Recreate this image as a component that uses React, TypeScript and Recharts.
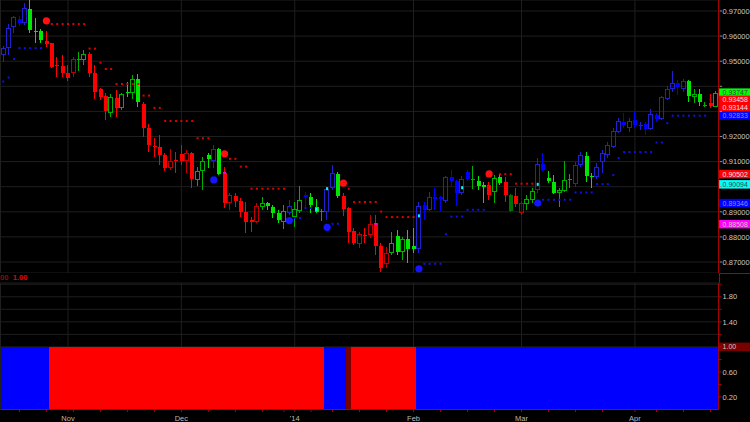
import React from 'react';
import { ComposedChart, Bar, Line, XAxis, YAxis, CartesianGrid, ReferenceLine } from 'recharts';

const FONT = "'Liberation Sans', Arial, sans-serif";

// daily bars, late Oct 2013 - mid Apr 2014
const opens = [
  0.9525, 0.9552, 0.9635, 0.9667, 0.9653, 0.9707, 0.9621, 0.9622, 0.9579, 0.9571,
  0.9486, 0.9482, 0.9454, 0.9452, 0.9507, 0.9505, 0.9528, 0.9454, 0.9388, 0.9362,
  0.9295, 0.9353, 0.9315, 0.9377, 0.9375, 0.9431, 0.9330, 0.9234, 0.9163, 0.9159,
  0.9127, 0.9075, 0.9107, 0.9131, 0.9103, 0.9135, 0.9027, 0.9063, 0.9127, 0.9103,
  0.9151, 0.9055, 0.8936, 0.8964, 0.8944, 0.8900, 0.8868, 0.8860, 0.8920, 0.8936,
  0.8920, 0.8896, 0.8860, 0.8896, 0.8880, 0.8904, 0.8968, 0.8960, 0.8920, 0.8903,
  0.8900, 0.8996, 0.9051, 0.8964, 0.8916, 0.8824, 0.8773, 0.8809, 0.8808, 0.8856,
  0.8765, 0.8693, 0.8737, 0.8805, 0.8741, 0.8793, 0.8765, 0.8753, 0.8928, 0.8908,
  0.8960, 0.8960, 0.8944, 0.9039, 0.9023, 0.8976, 0.9059, 0.9031, 0.9023, 0.9008,
  0.9008, 0.8980, 0.9039, 0.9019, 0.8968, 0.8964, 0.8896, 0.8932, 0.8948, 0.8988,
  0.9091, 0.9035, 0.9019, 0.8976, 0.8984, 0.9031, 0.9011, 0.9087, 0.9123, 0.9043,
  0.9039, 0.9099, 0.9127, 0.9159, 0.9218, 0.9258, 0.9234, 0.9266, 0.9246, 0.9250,
  0.9230, 0.9286, 0.9270, 0.9350, 0.9388, 0.9413, 0.9388, 0.9421, 0.9358, 0.9370,
  0.9326, 0.9334, 0.9318,
];
const highs = [
  0.9561, 0.9648, 0.9680, 0.9680, 0.9731, 0.9742, 0.9671, 0.9627, 0.9622, 0.9574,
  0.9518, 0.9525, 0.9485, 0.9518, 0.9538, 0.9545, 0.9538, 0.9485, 0.9392, 0.9372,
  0.9370, 0.9386, 0.9375, 0.9419, 0.9445, 0.9449, 0.9339, 0.9250, 0.9195, 0.9207,
  0.9135, 0.9151, 0.9139, 0.9167, 0.9147, 0.9139, 0.9079, 0.9119, 0.9135, 0.9167,
  0.9155, 0.9079, 0.8976, 0.8976, 0.8956, 0.8940, 0.8880, 0.8936, 0.8960, 0.8940,
  0.8928, 0.8908, 0.8928, 0.8948, 0.8940, 0.9004, 0.8980, 0.8976, 0.8952, 0.8912,
  0.9000, 0.9087, 0.9059, 0.8976, 0.8920, 0.8836, 0.8820, 0.8836, 0.8888, 0.8888,
  0.8777, 0.8761, 0.8820, 0.8828, 0.8801, 0.8828, 0.8836, 0.8940, 0.8940, 0.8980,
  0.8996, 0.8964, 0.9043, 0.9067, 0.9027, 0.9043, 0.9067, 0.9083, 0.9043, 0.9019,
  0.9019, 0.9047, 0.9047, 0.9039, 0.8972, 0.8996, 0.8944, 0.8968, 0.8996, 0.9115,
  0.9135, 0.9063, 0.9047, 0.8996, 0.9103, 0.9051, 0.9099, 0.9139, 0.9139, 0.9055,
  0.9095, 0.9147, 0.9179, 0.9234, 0.9274, 0.9294, 0.9274, 0.9302, 0.9258, 0.9258,
  0.9310, 0.9294, 0.9362, 0.9402, 0.9461, 0.9425, 0.9429, 0.9425, 0.9388, 0.9388,
  0.9338, 0.9370, 0.9382,
];
const lows = [
  0.9497, 0.9525, 0.9612, 0.9640, 0.9644, 0.9611, 0.9574, 0.9574, 0.9558, 0.9472,
  0.9439, 0.9439, 0.9423, 0.9436, 0.9462, 0.9485, 0.9439, 0.9349, 0.9346, 0.9266,
  0.9279, 0.9279, 0.9306, 0.9359, 0.9349, 0.9319, 0.9200, 0.9139, 0.9119, 0.9087,
  0.9063, 0.9067, 0.9055, 0.9087, 0.9055, 0.8996, 0.9004, 0.8988, 0.9075, 0.9075,
  0.9047, 0.8916, 0.8908, 0.8920, 0.8880, 0.8816, 0.8820, 0.8856, 0.8908, 0.8908,
  0.8876, 0.8856, 0.8832, 0.8888, 0.8840, 0.8896, 0.8920, 0.8896, 0.8896, 0.8864,
  0.8868, 0.8988, 0.8956, 0.8884, 0.8777, 0.8769, 0.8757, 0.8777, 0.8797, 0.8729,
  0.8661, 0.8677, 0.8729, 0.8729, 0.8709, 0.8697, 0.8737, 0.8737, 0.8868, 0.8904,
  0.8908, 0.8904, 0.8936, 0.9000, 0.8924, 0.8968, 0.9023, 0.8992, 0.8988, 0.8936,
  0.8948, 0.8936, 0.9008, 0.8940, 0.8900, 0.8920, 0.8888, 0.8908, 0.8936, 0.8976,
  0.9063, 0.9015, 0.8972, 0.8920, 0.8980, 0.8996, 0.9000, 0.9079, 0.9019, 0.8996,
  0.9031, 0.9055, 0.9115, 0.9155, 0.9214, 0.9234, 0.9218, 0.9234, 0.9226, 0.9207,
  0.9226, 0.9258, 0.9266, 0.9346, 0.9378, 0.9366, 0.9378, 0.9338, 0.9334, 0.9322,
  0.9318, 0.9314, 0.9316,
];
const closes = [
  0.9554, 0.9631, 0.9675, 0.9651, 0.9711, 0.9624, 0.9620, 0.9585, 0.9570, 0.9478,
  0.9485, 0.9452, 0.9435, 0.9508, 0.9508, 0.9528, 0.9452, 0.9379, 0.9359, 0.9302,
  0.9357, 0.9313, 0.9370, 0.9376, 0.9428, 0.9339, 0.9233, 0.9167, 0.9162, 0.9127,
  0.9075, 0.9103, 0.9106, 0.9103, 0.9135, 0.9031, 0.9063, 0.9103, 0.9111, 0.9151,
  0.9051, 0.8936, 0.8968, 0.8944, 0.8900, 0.8860, 0.8860, 0.8924, 0.8936, 0.8924,
  0.8896, 0.8868, 0.8904, 0.8924, 0.8912, 0.8948, 0.8960, 0.8928, 0.8900, 0.8904,
  0.8992, 0.9055, 0.8964, 0.8912, 0.8820, 0.8777, 0.8812, 0.8808, 0.8852, 0.8765,
  0.8677, 0.8737, 0.8777, 0.8741, 0.8793, 0.8753, 0.8753, 0.8924, 0.8908, 0.8960,
  0.8952, 0.8952, 0.9039, 0.9023, 0.8976, 0.9031, 0.9031, 0.9032, 0.9004, 0.9000,
  0.8968, 0.9035, 0.9015, 0.8968, 0.8904, 0.8932, 0.8936, 0.8952, 0.8984, 0.9091,
  0.9067, 0.9023, 0.8976, 0.8988, 0.9027, 0.9032, 0.9087, 0.9127, 0.9043, 0.9039,
  0.9079, 0.9135, 0.9167, 0.9222, 0.9262, 0.9246, 0.9262, 0.9246, 0.9247, 0.9230,
  0.9290, 0.9270, 0.9358, 0.9388, 0.9413, 0.9398, 0.9421, 0.9362, 0.9370, 0.9338,
  0.9327, 0.9322, 0.9375,
];

// candle colour runs: B blue, G green, R red, D dark green
const toneRuns: [string, number][] = [
  ['B', 5], ['G', 3], ['R', 6], ['G', 2], ['R', 4], ['G', 1], ['R', 1], ['G', 4], ['R', 10],
  ['G', 3], ['B', 1], ['G', 1], ['R', 7], ['G', 5], ['B', 1], ['G', 2], ['B', 1], ['G', 3],
  ['B', 2], ['G', 1], ['R', 9], ['G', 5], ['B', 10], ['G', 3], ['R', 1], ['G', 2], ['R', 1],
  ['D', 1], ['R', 2], ['G', 2], ['B', 2], ['G', 5], ['B', 2], ['G', 2], ['B', 17], ['G', 4],
  ['R', 1], ['G', 1],
];

// lower study: long (B) / short (R) / flip bar (X), always plotted at 1.00
const regimeRuns: [string, number][] = [['B', 9], ['R', 51], ['B', 4], ['X', 1], ['R', 12], ['B', 56]];
const studyLevel = 1.0;

// trailing stops, [bar, price]
const redStops: [number, number][] = [
  [9, 0.9648], [10, 0.9648], [11, 0.9648], [12, 0.9648], [13, 0.9648], [14, 0.9648], [15, 0.9648],
  [16, 0.955], [17, 0.955], [18, 0.9494], [19, 0.9469], [20, 0.9469],
  [21, 0.9409], [22, 0.9409], [23, 0.9409], [24, 0.9409], [25, 0.9409],
  [26, 0.9363], [27, 0.9363], [28, 0.9314], [29, 0.9314],
  [30, 0.9262], [31, 0.9262], [32, 0.9262], [33, 0.9262], [34, 0.9262], [35, 0.9262],
  [36, 0.9193], [37, 0.9193], [38, 0.9193],
  [42, 0.9111], [43, 0.9111], [44, 0.908], [45, 0.908],
  [46, 0.8992], [47, 0.8992], [48, 0.8992], [49, 0.8992], [50, 0.8992], [51, 0.8992], [52, 0.8992],
  [64, 0.8992], [65, 0.8939], [66, 0.8939], [67, 0.8939], [68, 0.8939], [69, 0.8939], [70, 0.8901],
  [71, 0.8879], [72, 0.8879], [73, 0.8879], [74, 0.8879], [75, 0.8879], [76, 0.8879],
  [92, 0.905], [93, 0.905], [94, 0.905], [95, 0.9012], [96, 0.9012], [97, 0.9012], [98, 0.9012],
  [131, 0.9346],
];
const blueStops: [number, number][] = [
  [0, 0.9419], [1, 0.9435], [2, 0.9509], [3, 0.9552], [4, 0.9552], [5, 0.9552], [6, 0.9552], [7, 0.9552],
  [54, 0.8875], [55, 0.8875], [56, 0.8915], [57, 0.8915], [61, 0.8852], [62, 0.8852],
  [78, 0.8693], [79, 0.8693], [80, 0.8693], [81, 0.8693], [82, 0.8811],
  [83, 0.8881], [84, 0.8881], [85, 0.8881], [86, 0.8908], [87, 0.8908], [88, 0.8908], [89, 0.8908],
  [100, 0.8948], [101, 0.8948], [102, 0.8948], [103, 0.8948], [104, 0.8948], [105, 0.8948],
  [106, 0.8977], [107, 0.8977], [108, 0.8977], [109, 0.8977], [110, 0.901], [111, 0.901], [112, 0.901],
  [113, 0.9047], [114, 0.9114], [115, 0.9138], [116, 0.9138], [117, 0.9138], [118, 0.9138], [119, 0.9138],
  [120, 0.9138], [121, 0.9176], [122, 0.9176], [123, 0.9253],
  [124, 0.9283], [125, 0.9283], [126, 0.9283], [127, 0.9283], [128, 0.9283], [129, 0.9283], [130, 0.9283],
];
const sellSignals: [number, number][] = [[8, 0.9661], [41, 0.9131], [63, 0.9014], [90, 0.9051]];
const buySignals: [number, number][] = [[39, 0.9027], [53, 0.8865], [60, 0.8838], [77, 0.8673], [99, 0.89346]];
const cyanMarks: [number, number][] = [[58, 0.891], [60, 0.8992], [77, 0.8884], [85, 0.8996], [99, 0.90094]];
const magentaMarks: [number, number][] = [[41, 0.9055], [69, 0.88508]];

const monthTicks = [12, 33, 54, 76, 96, 117];
const monthLabels = ['Nov', 'Dec', "'14", 'Feb', 'Mar', 'Apr'];
const weekTicks = [3, 8, 13, 18, 23, 28, 38, 43, 48, 52, 57, 61, 66, 71, 81, 86, 91, 101, 106, 111, 121, 126, 131];
const priceTicks = [0.87, 0.88, 0.89, 0.9, 0.91, 0.92, 0.93, 0.94, 0.95, 0.96, 0.97];
const levelTicks = [0.2, 0.4, 0.6, 0.8, 1.0, 1.2, 1.4, 1.6, 1.8, 2.0];
const levelLabels = [0.2, 0.6, 1.4, 1.8];

// last-value tags on the price axis
const tagValues = [0.93747, 0.93458, 0.93144, 0.92833, 0.90502, 0.90094, 0.89346, 0.88508];
const tagFills = ['#00ff00', '#ff0000', '#ff0000', '#0000ff', '#ff0000', '#00ffff', '#0000ff', '#ff00ff'];
const tagInks = ['#404040', '#e0e0e0', '#e0e0e0', '#8c8cff', '#e0e0e0', '#404040', '#8c8cff', '#c8c8c8'];

const palette: Record<string, { solid: string; hollow: string }> = {
  B: { solid: '#0000ff', hollow: '#2020d0' },
  G: { solid: '#00e600', hollow: '#00b000' },
  R: { solid: '#ff0000', hollow: '#c00000' },
  D: { solid: '#007000', hollow: '#007000' },
};
const regimeFill: Record<string, string> = { B: '#0000ff', R: '#ff0000', X: '#7a0000' };

const expand = (runs: [string, number][]) => runs.flatMap(([k, n]) => Array.from({ length: n }, () => k));
const candleTone = expand(toneRuns);
const regime = expand(regimeRuns);
const lookup = (pairs: [number, number][]) => new Map(pairs);
const redAt = lookup(redStops);
const blueAt = lookup(blueStops);
const sellAt = lookup(sellSignals);
const buyAt = lookup(buySignals);
const cyanAt = lookup(cyanMarks);
const magAt = lookup(magentaMarks);

const priceRows = opens.map((open, i) => ({
  i,
  open,
  high: highs[i],
  low: lows[i],
  close: closes[i],
  range: [lows[i], highs[i]],
  tone: candleTone[i],
  redStop: redAt.get(i) ?? null,
  blueStop: blueAt.get(i) ?? null,
  sell: sellAt.get(i) ?? null,
  buy: buyAt.get(i) ?? null,
  cyan: cyanAt.get(i) ?? null,
  mag: magAt.get(i) ?? null,
}));
const levelRows = regime.map((r, i) => ({ i, level: studyLevel, regime: r }));
const dateTicks = [...weekTicks, ...monthTicks].sort((a, b) => a - b);

const Candle = (props: any) => {
  const { x, y, width, height, payload } = props;
  if (!payload || x == null || y == null) return <g />;
  const { open, close, high, low, tone } = payload;
  const top = Math.min(y, y + height);
  const bot = Math.max(y, y + height);
  const span = high - low;
  const toPx = (v: number) => (span > 0 ? top + ((high - v) / span) * (bot - top) : top);
  const cx = Math.floor(x + width / 2);
  const pal = palette[tone];
  const rising = close > open;
  const color = rising ? pal.hollow : pal.solid;
  const bTop = toPx(Math.max(open, close));
  const bBot = toPx(Math.min(open, close));
  const flat = bBot - bTop < 2;
  if (rising && !flat) {
    return (
      <g shapeRendering="crispEdges">
        <rect x={cx} y={top} width={1} height={Math.max(0, bTop - top)} fill={color} />
        <rect x={cx} y={bBot} width={1} height={Math.max(0, bot - bBot)} fill={color} />
        <rect x={cx - 1.5} y={bTop + 0.5} width={4} height={bBot - bTop - 1} fill="none" stroke={color} />
      </g>
    );
  }
  return (
    <g shapeRendering="crispEdges">
      <rect x={cx} y={top} width={1} height={Math.max(1, bot - top)} fill={color} />
      <rect x={cx - 1.5} y={bTop} width={4} height={Math.max(1, bBot - bTop)} fill={color} />
    </g>
  );
};

const StudyBar = (props: any) => {
  const { x, y, width, height, payload } = props;
  if (!payload || x == null) return <g />;
  return (
    <rect
      x={x}
      y={y}
      width={width + 0.8}
      height={height}
      fill={regimeFill[payload.regime]}
      shapeRendering="crispEdges"
    />
  );
};

const marker = (kind: string) => (p: any) => {
  const { cx, cy, value, index } = p;
  const key = `${kind}-${index}`;
  if (value == null || cx == null || cy == null || Number.isNaN(cy)) return <g key={key} />;
  if (kind === 'red') return <rect key={key} x={cx - 1} y={cy - 1} width={2} height={2} fill="#e00000" />;
  if (kind === 'blue') return <rect key={key} x={cx - 1} y={cy - 1} width={2} height={2} fill="#1010e8" />;
  if (kind === 'sell') return <circle key={key} cx={cx} cy={cy} r={3.6} fill="#ff1010" />;
  if (kind === 'buy') return <circle key={key} cx={cx} cy={cy} r={3.6} fill="#1414ff" />;
  if (kind === 'cyan') return <rect key={key} x={cx - 1} y={cy - 1.5} width={2} height={3} fill="#00ffff" />;
  return <rect key={key} x={cx - 1.5} y={cy - 1} width={3} height={1.5} fill="#ff00ff" />;
};

// a tick label that sits under one of the value tags is hidden by it
const underTag = (v: number) => tagValues.some((t) => Math.abs(t - v) < 0.003);

const PriceTick = ({ x, y, payload }: any) => (
  <g>
    <line x1={x + 1} x2={x + 3.5} y1={y} y2={y} stroke="#909090" />
    {!underTag(Number(payload.value)) && (
      <text x={x + 4} y={y + 2.7} fill="#c8c8c8" fontSize={7.5} fontFamily={FONT}>
        {Number(payload.value).toFixed(5)}
      </text>
    )}
  </g>
);

const LevelTick = ({ x, y, payload }: any) => (
  <g>
    <line x1={x} x2={x + 3} y1={y} y2={y} stroke="#b40000" />
    {levelLabels.some((v) => Math.abs(v - payload.value) < 1e-6) && (
      <text x={x + 4} y={y + 2.7} fill="#c8c8c8" fontSize={7.5} fontFamily={FONT}>
        {Number(payload.value).toFixed(2)}
      </text>
    )}
  </g>
);

const DateTick = ({ x, y, payload }: any) => {
  const k = monthTicks.indexOf(payload.value);
  return (
    <g>
      <line x1={x} x2={x} y1={y} y2={y + 2.5} stroke="#b40000" />
      {k >= 0 && (
        <text x={x} y={y + 11.5} textAnchor="middle" fill="#b8b8b8" fontSize={7.5} fontFamily={FONT}>
          {monthLabels[k]}
        </text>
      )}
    </g>
  );
};

const tag = (text: string, fill: string, ink: string) => (p: any) => {
  const vb = p.viewBox || {};
  const x0 = (vb.x ?? 0) + (vb.width ?? 0) + 0.5;
  const y0 = vb.y ?? 0;
  return (
    <g>
      <rect x={x0} y={y0 - 4.25} width={32} height={8.5} fill={fill} />
      <text x={x0 + 3.5} y={y0 + 2.5} fill={ink} fontSize={7} fontFamily={FONT}>
        {text}
      </text>
    </g>
  );
};

const overlays: [string, string][] = [
  ['redStop', 'red'],
  ['blueStop', 'blue'],
  ['sell', 'sell'],
  ['buy', 'buy'],
  ['cyan', 'cyan'],
  ['mag', 'mag'],
];

export default function App() {
  return (
    <div style={{ position: 'absolute', left: 0, top: 0, width: 750, height: 422, background: '#000', overflow: 'hidden' }}>
      <div style={{ position: 'absolute', left: 0, top: 0 }}>
        <ComposedChart width={750} height={273} data={priceRows} margin={{ top: 0, right: 0, bottom: 0, left: 0.5 }} barCategoryGap={0} barGap={0}>
          <CartesianGrid stroke="#1f1f1f" />
          <XAxis dataKey="i" hide ticks={monthTicks} />
          <YAxis
            orientation="right"
            width={31.4}
            domain={[0.86562, 0.97438]}
            ticks={priceTicks}
            allowDataOverflow
            interval={0}
            axisLine={{ stroke: '#b40000' }}
            tickLine={false}
            tickSize={0}
            tickMargin={0}
            tick={<PriceTick />}
          />
          <Bar dataKey="range" shape={<Candle />} isAnimationActive={false} />
          {overlays.map(([key, kind]) => (
            <Line
              key={key}
              dataKey={key}
              stroke="none"
              dot={marker(kind)}
              activeDot={false}
              isAnimationActive={false}
            />
          ))}
          {tagValues.map((v, k) => (
            <ReferenceLine key={k} y={v} stroke="none" label={tag(v.toFixed(5), tagFills[k], tagInks[k])} />
          ))}
        </ComposedChart>
      </div>
      <div style={{ position: 'absolute', left: 0, top: 273, fontFamily: FONT, fontSize: 7.5, fontWeight: 'bold', whiteSpace: 'nowrap' }}>
        <span style={{ color: '#a00000' }}>00</span>
        <span style={{ color: '#e00000', marginLeft: 4.5 }}>1.00</span>
      </div>
      <div style={{ position: 'absolute', left: 718.6, top: 273, width: 31.4, height: 1, background: '#b40000' }} />
      <div style={{ position: 'absolute', left: 718.6, top: 273, width: 1, height: 10, background: '#b40000' }} />
      <div style={{ position: 'absolute', left: 0, top: 273 }}>
        <ComposedChart width={750} height={149} data={levelRows} margin={{ top: 10, right: 0, bottom: 0, left: 0.5 }} barCategoryGap={0} barGap={0}>
          <CartesianGrid stroke="#1f1f1f" xAxisId="g" />
          <XAxis
            dataKey="i"
            ticks={dateTicks}
            interval={0}
            height={12.5}
            axisLine={{ stroke: '#b40000' }}
            tickLine={false}
            tickSize={0}
            tickMargin={0}
            tick={<DateTick />}
          />
          <XAxis xAxisId="g" dataKey="i" hide ticks={monthTicks} />
          <YAxis
            orientation="right"
            width={31.4}
            domain={[0, 2.02]}
            ticks={levelTicks}
            allowDataOverflow
            interval={0}
            axisLine={{ stroke: '#b40000' }}
            tickLine={false}
            tickSize={0}
            tickMargin={0}
            tick={<LevelTick />}
          />
          <Bar dataKey="level" shape={<StudyBar />} isAnimationActive={false} />
          <ReferenceLine y={studyLevel} stroke="none" label={tag('1.00', '#7a0000', '#c8c8c8')} />
        </ComposedChart>
      </div>
    </div>
  );
}
